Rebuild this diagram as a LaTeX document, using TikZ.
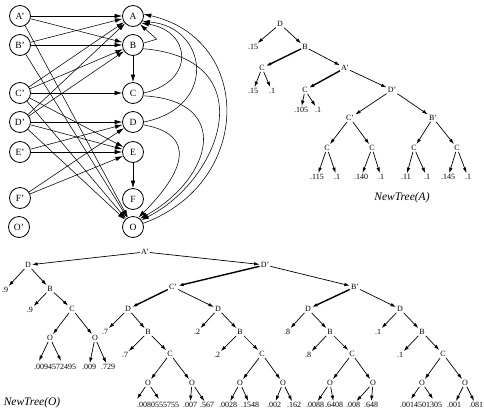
\documentclass[tikz,border=0pt]{standalone}
\usepackage{fontspec}
\setmainfont{Liberation Serif}
\usetikzlibrary{arrows.meta}

\begin{document}
\begin{tikzpicture}[x=1pt, y=-1pt, every node/.style={font=\fontsize{8}{9}\selectfont, inner sep=1pt},
    var/.style={draw, circle, minimum size=21pt, inner sep=0pt, line width=.8pt, font=\fontsize{9.5}{11}\selectfont},
    link/.style={-{Latex[length=7.5pt,width=4.5pt]}, line width=.55pt},
    branch/.style={-{Latex[length=5.5pt,width=3.5pt]}, line width=.7pt},
    heavy/.style={branch, line width=1.4pt},
    caption/.style={font=\fontsize{11.5}{13}\selectfont\itshape}]
  \useasboundingbox (0,0) rectangle (484,418);

  \node[var] (ap) at (20,16) {A'};
  \node[var] (bp) at (20,45) {B'};
  \node[var] (cp) at (20,93) {C'};
  \node[var] (dp) at (20,122) {D'};
  \node[var] (ep) at (20,152) {E'};
  \node[var] (fp) at (20,198) {F'};
  \node[var] (op) at (19,227) {O'};
  \node[var] (a) at (133,16) {A};
  \node[var] (b) at (133,45) {B};
  \node[var] (c) at (133,93) {C};
  \node[var] (d) at (133,122) {D};
  \node[var] (e) at (133,152) {E};
  \node[var] (f) at (133,199) {F};
  \node[var] (o) at (133,227) {O};

  \draw[link] (ap) -- (a);
  \draw[link] (ap) -- (b);
  \draw[link] (ap) -- (o);
  \draw[link] (bp) -- (a);
  \draw[link] (bp) -- (b);
  \draw[link] (bp) -- (o);
  \draw[link] (cp) -- (a);
  \draw[link] (cp) -- (b);
  \draw[link] (cp) -- (c);
  \draw[link] (cp) -- (e);
  \draw[link] (cp) -- (o);
  \draw[link] (dp) -- (a);
  \draw[link] (dp) -- (b);
  \draw[link] (dp) -- (d);
  \draw[link] (dp) -- (e);
  \draw[link] (dp) -- (o);
  \draw[link] (ep) -- (d);
  \draw[link] (ep) -- (e);
  \draw[link] (fp) -- (d);
  \draw[link] (fp) -- (e);
  \draw[link] (b) -- (c);
  \draw[link] (e) -- (f);
  \draw[link] (b.10) -- ++(13,-4) -- (a.-50);
  \draw[link] (c.east) .. controls +(52,-12) and +(50,8) .. (a.-40);
  \draw[link] (d.east) .. controls +(75,-15) and +(65,5) .. (a.-30);
  \draw[link] (o.20) .. controls +(110,-40) and +(110,25) .. (a.10);
  \draw[link] (b.-20) .. controls +(122,10) and +(80,-40) .. (o.40);
  \draw[link] (c.-15) .. controls +(90,5) and +(72,-40) .. (o.50);
  \draw[link] (d.-15) .. controls +(55,10) and +(45,-45) .. (o.60);

  \node (xD) at (280,24) {D};
  \node (x15a) at (253,47) {.15};
  \node (xB) at (305,47) {B};
  \node (xC1) at (262,68) {C};
  \node (xA) at (345,68) {A'};
  \node (x15b) at (253,91) {.15};
  \node (x1a) at (272,91) {.1};
  \node (xC2) at (305,90) {C};
  \node (xDp) at (392,90) {D'};
  \node (x105) at (301,110) {.105};
  \node (x1b) at (318,110) {.1};
  \node (xCp) at (350,118) {C'};
  \node (xBp) at (433,118) {B'};
  \node (xC3) at (327,148) {C};
  \node (xC4) at (372,148) {C};
  \node (xC5) at (414,148) {C};
  \node (xC6) at (457,148) {C};
  \node (xl1) at (317,177) {.115};
  \node (xl2) at (337,177) {.1};
  \node (xl3) at (361,177) {.140};
  \node (xl4) at (381,177) {.1};
  \node (xl5) at (406,177) {.11};
  \node (xl6) at (427,177) {.1};
  \node (xl7) at (448,177) {.145};
  \node (xl8) at (468,177) {.1};
  \node[caption] (capA) at (402,198) {NewTree(A)};

  \draw[branch] (xD) -- (x15a);
  \draw[branch] (xD) -- (xB);
  \draw[heavy] (xB) -- (xC1);
  \draw[branch] (xB) -- (xA);
  \draw[branch] (xC1) -- (x15b);
  \draw[branch] (xC1) -- (x1a);
  \draw[heavy] (xA) -- (xC2);
  \draw[branch] (xA) -- (xDp);
  \draw[branch] (xC2) -- (x105);
  \draw[branch] (xC2) -- (x1b);
  \draw[branch] (xDp) -- (xCp);
  \draw[branch] (xDp) -- (xBp);
  \draw[branch] (xCp) -- (xC3);
  \draw[branch] (xCp) -- (xC4);
  \draw[branch] (xBp) -- (xC5);
  \draw[branch] (xBp) -- (xC6);
  \draw[branch] (xC3) -- (xl1);
  \draw[branch] (xC3) -- (xl2);
  \draw[branch] (xC4) -- (xl3);
  \draw[branch] (xC4) -- (xl4);
  \draw[branch] (xC5) -- (xl5);
  \draw[branch] (xC5) -- (xl6);
  \draw[branch] (xC6) -- (xl7);
  \draw[branch] (xC6) -- (xl8);

  \node (yA) at (145,252) {A'};
  \node (yD) at (28,265) {D};
  \node (yDp) at (265,265) {D'};
  \node (y9a) at (5,290) {.9};
  \node (yB) at (50,289) {B};
  \node (y9b) at (30,310) {.9};
  \node (yC) at (72,309) {C};
  \node (yO1) at (50,338) {O};
  \node (yO2) at (95,338) {O};
  \node (yl1) at (55,367) {.0094572495};
  \coordinate (yl1a) at (39,361);
  \coordinate (yl1b) at (61,361);
  \node (yl2) at (89,367) {.009};
  \node (yl3) at (108,367) {.729};
  \node (yCp) at (173,287) {C'};
  \node (yD1) at (128,309) {D};
  \node (yD2) at (218,309) {D};
  \node (y7a) at (105,332) {.7};
  \node (yB1) at (148,332) {B};
  \node (y7b) at (125,355) {.7};
  \node (yC1) at (170,354) {C};
  \node (yO3) at (148,383) {O};
  \node (yO4) at (192,383) {O};
  \node (yl4) at (158,405) {.0080555755};
  \coordinate (yl4a) at (137,399);
  \coordinate (yl4b) at (159,399);
  \node (yl5) at (190,405) {.007};
  \node (yl6) at (207,405) {.567};
  \node (y2a) at (197,332) {.2};
  \node (yB2) at (240,332) {B};
  \node (y2b) at (217,355) {.2};
  \node (yC2) at (262,354) {C};
  \node (yO5) at (240,383) {O};
  \node (yO6) at (283,383) {O};
  \node (yl7) at (228,405) {.0028};
  \node (yl8) at (250,405) {.1548};
  \node (yl9) at (274,405) {.002};
  \node (yl10) at (294,405) {.162};
  \node (yBp) at (355,287) {B'};
  \node (yD3) at (308,309) {D};
  \node (yD4) at (400,309) {D};
  \node (y8a) at (287,332) {.8};
  \node (yB3) at (330,332) {B};
  \node (y8b) at (308,355) {.8};
  \node (yC3) at (352,354) {C};
  \node (yO7) at (330,383) {O};
  \node (yO8) at (373,383) {O};
  \node (yl11) at (315,405) {.0088};
  \node (yl12) at (334,405) {.6408};
  \node (yl13) at (353,405) {.008};
  \node (yl14) at (371,405) {.648};
  \node (y1a) at (378,332) {.1};
  \node (yB4) at (422,332) {B};
  \node (y1b) at (400,355) {.1};
  \node (yC4) at (443,354) {C};
  \node (yO9) at (422,383) {O};
  \node (yO10) at (465,383) {O};
  \node (yl15) at (421,405) {.0014501305};
  \coordinate (yl15a) at (411,399);
  \coordinate (yl15b) at (433,399);
  \node (yl16) at (454,405) {.001};
  \node (yl17) at (476,405) {.081};
  \node[caption] (capO) at (32,403) {NewTree(O)};

  \draw[branch] (yA) -- (yD);
  \draw[branch] (yA) -- (yDp);
  \draw[branch] (yD) -- (y9a);
  \draw[branch] (yD) -- (yB);
  \draw[branch] (yB) -- (y9b);
  \draw[branch] (yB) -- (yC);
  \draw[branch] (yC) -- (yO1);
  \draw[branch] (yC) -- (yO2);
  \draw[branch] (yO1) -- (yl1a);
  \draw[branch] (yO1) -- (yl1b);
  \draw[branch] (yO2) -- (yl2);
  \draw[branch] (yO2) -- (yl3);
  \draw[heavy] (yDp) -- (yCp);
  \draw[branch] (yDp) -- (yBp);
  \draw[heavy] (yCp) -- (yD1);
  \draw[branch] (yCp) -- (yD2);
  \draw[branch] (yD1) -- (y7a);
  \draw[branch] (yD1) -- (yB1);
  \draw[branch] (yB1) -- (y7b);
  \draw[branch] (yB1) -- (yC1);
  \draw[branch] (yC1) -- (yO3);
  \draw[branch] (yC1) -- (yO4);
  \draw[branch] (yO3) -- (yl4a);
  \draw[branch] (yO3) -- (yl4b);
  \draw[branch] (yO4) -- (yl5);
  \draw[branch] (yO4) -- (yl6);
  \draw[branch] (yD2) -- (y2a);
  \draw[branch] (yD2) -- (yB2);
  \draw[branch] (yB2) -- (y2b);
  \draw[branch] (yB2) -- (yC2);
  \draw[branch] (yC2) -- (yO5);
  \draw[branch] (yC2) -- (yO6);
  \draw[branch] (yO5) -- (yl7);
  \draw[branch] (yO5) -- (yl8);
  \draw[branch] (yO6) -- (yl9);
  \draw[branch] (yO6) -- (yl10);
  \draw[heavy] (yBp) -- (yD3);
  \draw[branch] (yBp) -- (yD4);
  \draw[branch] (yD3) -- (y8a);
  \draw[branch] (yD3) -- (yB3);
  \draw[branch] (yB3) -- (y8b);
  \draw[branch] (yB3) -- (yC3);
  \draw[branch] (yC3) -- (yO7);
  \draw[branch] (yC3) -- (yO8);
  \draw[branch] (yO7) -- (yl11);
  \draw[branch] (yO7) -- (yl12);
  \draw[branch] (yO8) -- (yl13);
  \draw[branch] (yO8) -- (yl14);
  \draw[branch] (yD4) -- (y1a);
  \draw[branch] (yD4) -- (yB4);
  \draw[branch] (yB4) -- (y1b);
  \draw[branch] (yB4) -- (yC4);
  \draw[branch] (yC4) -- (yO9);
  \draw[branch] (yC4) -- (yO10);
  \draw[branch] (yO9) -- (yl15a);
  \draw[branch] (yO9) -- (yl15b);
  \draw[branch] (yO10) -- (yl16);
  \draw[branch] (yO10) -- (yl17);
\end{tikzpicture}
\end{document}
